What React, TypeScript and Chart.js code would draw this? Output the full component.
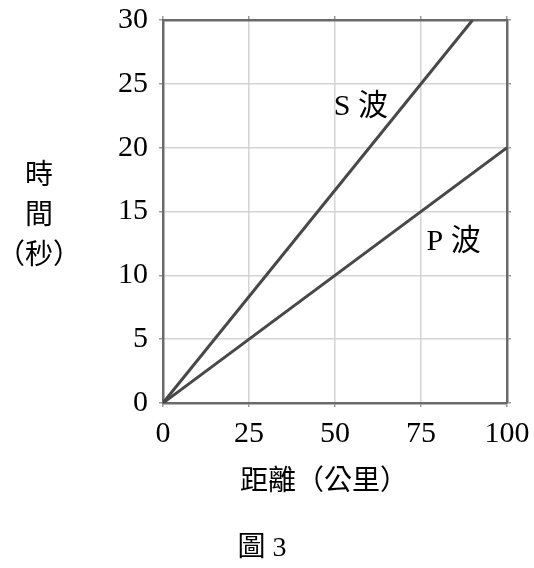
import { useEffect, useRef } from "react";
import { Chart, ChartConfiguration, registerables } from "chart.js";

Chart.register(...registerables);

// distance (km) vs travel time (s)
const sDistance = [0, 90];
const sTime = [0, 30];
const pDistance = [0, 100];
const pTime = [0, 20];

const xTicks = [0, 25, 50, 75, 100];
const yTicks = [0, 5, 10, 15, 20, 25, 30];

const yTitleLines = ["時", "間", "（秒）"];
const xTitle = "距離（公里）";
const caption = "圖 3";
const sLabel = "S 波";
const pLabel = "P 波";

const SERIF = "'Liberation Serif', 'Noto Sans CJK TC', serif";
const LINE = "#484848";
const GRID = "#d4d4d4";
const FRAME = "#6a6a6a";

const textPlugin = {
  id: "textOverlay",
  afterDraw(chart: Chart) {
    const ctx = chart.ctx;
    const xs = chart.scales.x;
    const ys = chart.scales.y;
    ctx.save();
    ctx.fillStyle = "#000";
    ctx.textAlign = "center";
    ctx.textBaseline = "middle";
    ctx.font = `30px ${SERIF}`;
    // in-plot labels near each line
    ctx.fillText(sLabel, xs.getPixelForValue(57.5), ys.getPixelForValue(23.2));
    ctx.fillText(pLabel, xs.getPixelForValue(84.5), ys.getPixelForValue(12.6));
    ctx.font = `28px ${SERIF}`;
    // vertical y title
    const ty = [177, 217, 257];
    yTitleLines.forEach((t, i) => ctx.fillText(t, 39, ty[i]));
    ctx.fillText(xTitle, 324, 483);
    ctx.fillText(caption, 262, 549);
    ctx.restore();
  },
};

export default function App() {
  const canvasRef = useRef<HTMLCanvasElement>(null);
  const chartRef = useRef<Chart | null>(null);

  useEffect(() => {
    if (!canvasRef.current) return;
    if (chartRef.current) chartRef.current.destroy();

    const tickFont = { family: SERIF, size: 30 };
    const hiddenAxis = {
      type: "linear" as const,
      grid: { drawOnChartArea: false, tickLength: 4, color: "#9a9a9a", lineWidth: 1.5 },
      border: { color: FRAME, width: 2.5 },
      ticks: { display: false },
    };

    const config: ChartConfiguration = {
      type: "scatter",
      data: {
        datasets: [
          {
            label: "S",
            data: sDistance.map((d, i) => ({ x: d, y: sTime[i] })),
            showLine: true,
            borderColor: LINE,
            borderWidth: 3,
            pointRadius: 0,
          },
          {
            label: "P",
            data: pDistance.map((d, i) => ({ x: d, y: pTime[i] })),
            showLine: true,
            borderColor: LINE,
            borderWidth: 3,
            pointRadius: 0,
          },
        ],
      },
      options: {
        responsive: true,
        maintainAspectRatio: false,
        animation: false,
        layout: { padding: 0 },
        plugins: { legend: { display: false }, tooltip: { enabled: false } },
        scales: {
          x: {
            type: "linear",
            position: "bottom",
            min: 0,
            max: 100,
            afterBuildTicks: (s: any) => { s.ticks = xTicks.map(v => ({ value: v })); },
            afterFit: (s: any) => { s.height = 165; s.paddingLeft = 0; s.paddingRight = 0; },
            grid: { color: GRID, lineWidth: 1.5, tickLength: 4, tickColor: "#9a9a9a" },
            border: { color: FRAME, width: 2.5 },
            ticks: { font: tickFont, color: "#000", padding: 9, maxRotation: 0 },
          },
          y: {
            type: "linear",
            position: "left",
            min: 0,
            max: 30,
            afterBuildTicks: (s: any) => { s.ticks = yTicks.map(v => ({ value: v })); },
            afterFit: (s: any) => { s.width = 163; s.paddingTop = 0; s.paddingBottom = 0; },
            grid: { color: GRID, lineWidth: 1.5, tickLength: 4, tickColor: "#9a9a9a" },
            border: { color: FRAME, width: 2.5 },
            ticks: { font: tickFont, color: "#000", padding: 11 },
          },
          xTop: {
            ...hiddenAxis,
            position: "top",
            min: 0,
            max: 100,
            afterBuildTicks: (s: any) => { s.ticks = xTicks.map(v => ({ value: v })); },
            afterFit: (s: any) => { s.height = 20; },
          },
          yRight: {
            ...hiddenAxis,
            position: "right",
            min: 0,
            max: 30,
            afterBuildTicks: (s: any) => { s.ticks = yTicks.map(v => ({ value: v })); },
            afterFit: (s: any) => { s.width = 27; },
          },
        },
      } as any,
      plugins: [textPlugin],
    };

    chartRef.current = new Chart(canvasRef.current, config);
    return () => {
      chartRef.current?.destroy();
      chartRef.current = null;
    };
  }, []);

  return (
    <div style={{ position: "absolute", left: 0, top: 0, width: 534, height: 568, background: "#fff" }}>
      <canvas ref={canvasRef} />
    </div>
  );
}
